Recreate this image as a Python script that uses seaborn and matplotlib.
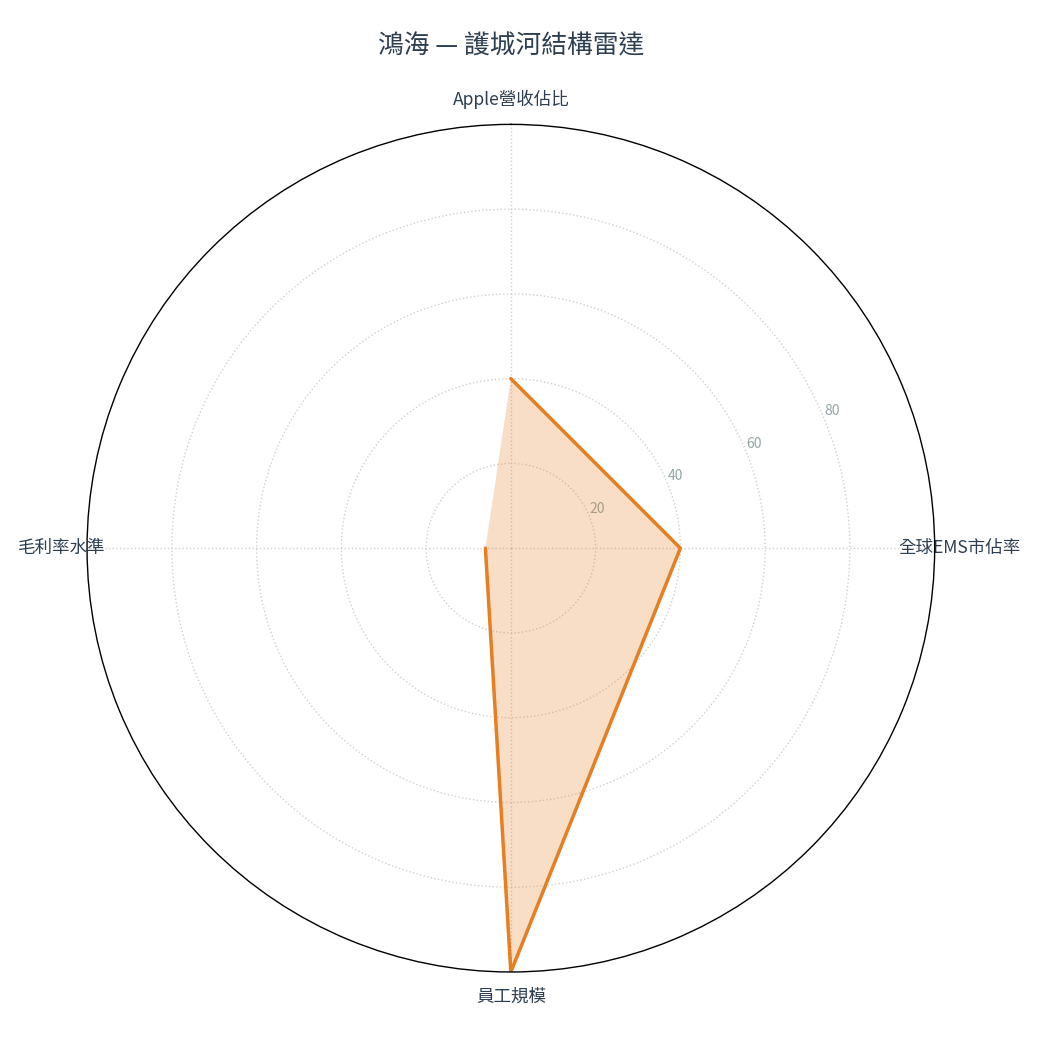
import numpy as np
import seaborn as sns
import matplotlib.pyplot as plt

categories = ['Apple營收佔比', '全球EMS市佔率', '員工規模', '毛利率水準']
values = [40, 40, 100, 6]
r_ticks = [20, 40, 60, 80]
title = '鴻海 — 護城河結構雷達'

sns.set_theme(style='white')
plt.rcParams['font.family'] = ['Noto Sans CJK TC', 'DejaVu Sans']

text_color = '#2c3e50'
line_color = '#e67e22'

fig = plt.figure(figsize=(10.4, 10.4), dpi=100)
ax = fig.add_axes([0.0837, 0.0654, 0.815, 0.815], polar=True)
ax.set_theta_offset(np.pi / 2)
ax.set_theta_direction(-1)

angles = np.linspace(0, 2 * np.pi, len(categories), endpoint=False)
a_closed = np.concatenate([angles, angles[:1]])
v_closed = values + values[:1]

sns.lineplot(x=a_closed, y=v_closed, ax=ax, color=line_color, linewidth=2.5, sort=False)
ax.fill(a_closed, v_closed, color=line_color, alpha=0.25, linewidth=0)

ax.set_ylim(0, 100)
ax.set_yticks(r_ticks)
ax.set_yticklabels([str(t) for t in r_ticks], color='#95a5a6', fontsize=10)
ax.set_rlabel_position(67.5)
ax.set_xticks(angles)
ax.set_xticklabels(categories, color=text_color, fontsize=12.6)
ax.tick_params(axis='x', pad=5)
ax.grid(True, color='#d0d0d0', linestyle=':', linewidth=1)
ax.spines['polar'].set_color('black')
ax.spines['polar'].set_linewidth(1)

fig.text(0.491, 0.955, title, ha='center', va='center', fontsize=18.5, color=text_color)

fig.savefig('out.png', dpi=100)
